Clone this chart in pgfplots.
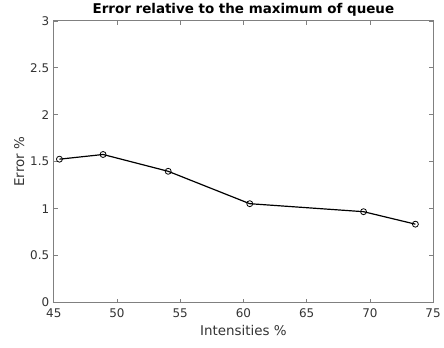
\documentclass[border=0pt]{standalone}
\usepackage{pgfplots}
\pgfplotsset{compat=1.18}
\usepackage{fontspec}
\setmainfont{DejaVu Sans}
\definecolor{axgray}{rgb}{0.5,0.5,0.5}
\definecolor{txtgray}{rgb}{0.2,0.2,0.2}
\begin{document}
\begin{tikzpicture}
\begin{axis}[
  scale only axis,
  width=381pt, height=283pt,
  xmin=45, xmax=75, ymin=0, ymax=3,
  xtick={45,50,...,75},
  ytick={0,0.5,1,1.5,2,2.5,3},
  yticklabels={0,0.5,1,1.5,2,2.5,3},
  tick align=inside,
  major tick length=4pt,
  axis line style={axgray, line width=0.8pt},
  every tick/.style={axgray, line width=0.6pt},
  tick label style={font=\fontsize{12}{14}\selectfont, text=txtgray},
  xticklabel style={yshift=-3pt},
  yticklabel style={xshift=-1pt},
  /pgf/number format/assume math mode=true,
  label style={font=\fontsize{13.5}{15}\selectfont, text=txtgray},
  xlabel={Intensities \%},
  ylabel={Error \%},
  title={\textbf{Error relative to the maximum of queue}},
  title style={font=\fontsize{13.5}{15}\selectfont, yshift=-5pt},
  xlabel style={yshift=0pt},
  ylabel style={yshift=-1pt},
]
\addplot[black, line width=1.2pt, mark=o, mark size=3pt, mark options={line width=0.8pt}]
coordinates {
(45.45,1.527)
(48.9,1.577)
(54.05,1.398)
(60.5,1.053)
(69.5,0.968)
(73.6,0.835)
};
\end{axis}
\path (current axis.south west) ++(-54pt,-45pt) rectangle ++(444pt,345pt);
\end{tikzpicture}
\end{document}
